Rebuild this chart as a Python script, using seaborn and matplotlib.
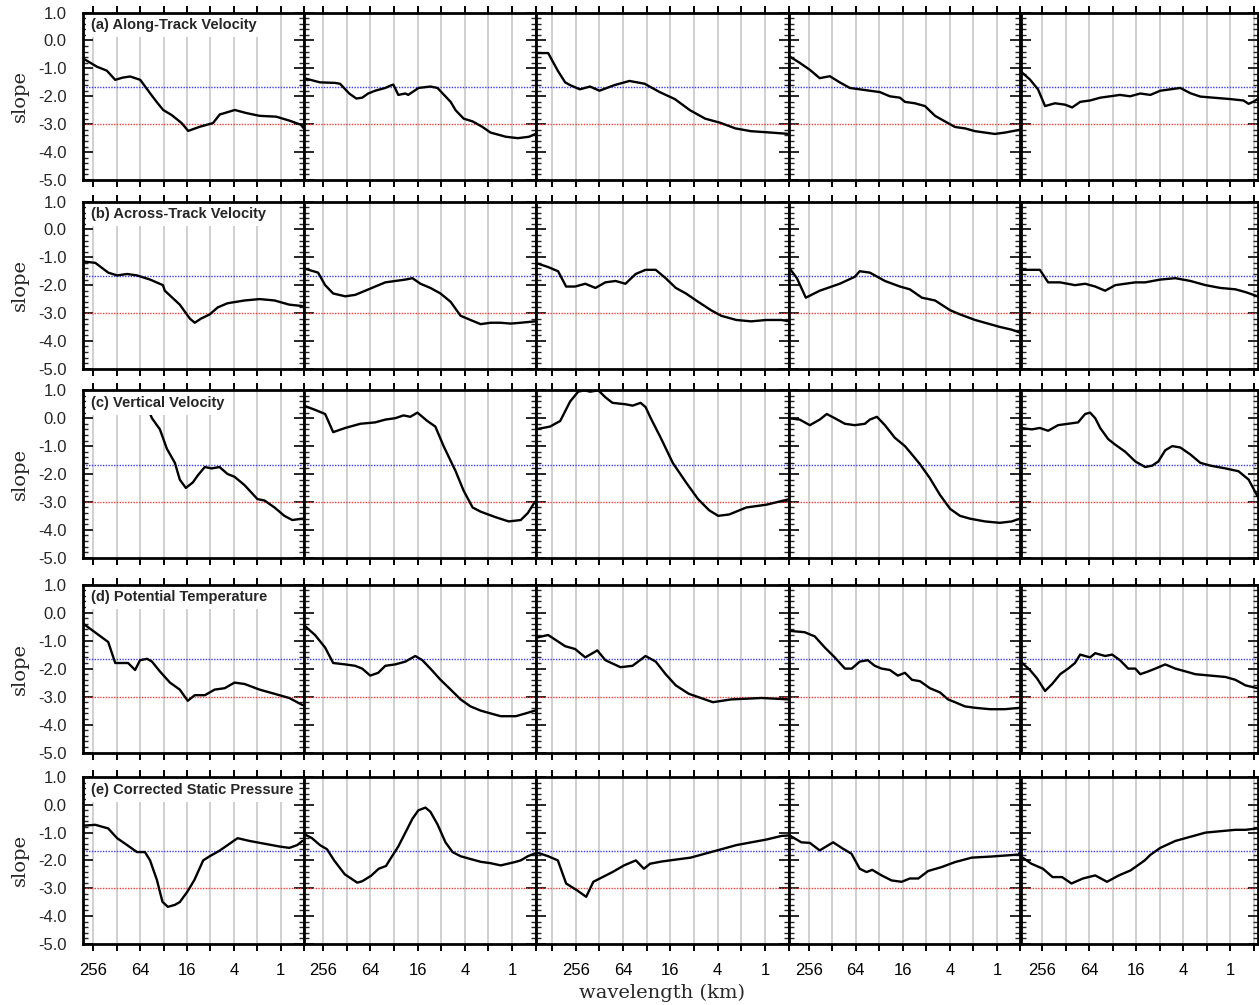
import numpy as np
import pandas as pd
import matplotlib
matplotlib.use("Agg")
import matplotlib.pyplot as plt
from matplotlib.ticker import FixedLocator, FuncFormatter, MultipleLocator, NullLocator
import seaborn as sns

# ---------------------------------------------------------------------------
# Spectral slope versus wavelength.  x values are log2(wavelength / km),
# y values are the local spectral slope.
# ---------------------------------------------------------------------------
row_titles = ["(a) Along-Track Velocity", "(b) Across-Track Velocity",
              "(c) Vertical Velocity", "(d) Potential Temperature",
              "(e) Corrected Static Pressure"]

# wavelength range covered by each column (km)
col_max_km = [346, 451, 832, 462, 482]
col_min_km = [0.5, 0.5, 0.5, 0.5, 0.45]

# reference slopes
slope_k53 = -5.0 / 3.0
slope_k3 = -3.0

# tick labels along the wavelength axis
labelled_km = [256, 64, 16, 4, 1]

# (a) along-track velocity
a1_x = [8.43, 7.85, 7.43, 7.07, 6.75, 6.43, 6.0, 5.58, 5.3, 5.02, 4.66, 4.23, 3.95, 3.45, 2.89, 2.6, 2.39, 1.96, 1.47, 0.9, 0.19, -0.37, -0.87, -0.98]
a1_y = [-0.65, -0.94, -1.08, -1.41, -1.33, -1.29, -1.41, -1.89, -2.2, -2.49, -2.67, -2.96, -3.24, -3.09, -2.96, -2.65, -2.6, -2.49, -2.6, -2.7, -2.73, -2.87, -3.02, -3.14]
a2_x = [8.82, 8.14, 7.5, 7.29, 6.9, 6.6, 6.35, 6.1, 5.8, 5.37, 5.16, 5.03, 4.82, 4.52, 4.4, 3.96, 3.46, 3.16, 2.6, 2.39, 2.05, 1.67, 1.25, 0.91, 0.26, -0.25, -0.72, -1.0]
a2_y = [-1.35, -1.5, -1.52, -1.55, -1.9, -2.08, -2.05, -1.9, -1.8, -1.7, -1.62, -1.58, -1.95, -1.9, -1.95, -1.7, -1.65, -1.7, -2.2, -2.5, -2.8, -2.9, -3.1, -3.3, -3.45, -3.5, -3.45, -3.35]
a3_x = [9.70, 9.17, 8.75, 8.45, 8.24, 7.83, 7.4, 7.0, 6.37, 5.73, 5.09, 4.45, 3.81, 3.17, 2.53, 1.89, 1.25, 0.6, -0.25, -1.04]
a3_y = [-0.45, -0.45, -1.1, -1.5, -1.6, -1.75, -1.65, -1.8, -1.6, -1.45, -1.55, -1.85, -2.1, -2.5, -2.8, -2.95, -3.15, -3.25, -3.3, -3.35]
a4_x = [8.85, 8.38, 7.95, 7.53, 7.1, 6.68, 6.25, 5.83, 5.4, 4.97, 4.55, 4.12, 3.91, 3.49, 3.06, 2.63, 2.21, 1.78, 1.36, 0.93, 0.51, 0.09, -0.34, -0.97]
a4_y = [-0.55, -0.8, -1.05, -1.35, -1.28, -1.5, -1.7, -1.75, -1.8, -1.85, -2.0, -2.05, -2.2, -2.25, -2.35, -2.7, -2.9, -3.1, -3.15, -3.25, -3.3, -3.35, -3.3, -3.2]
a5_x = [8.91, 8.51, 8.17, 7.87, 7.45, 7.02, 6.72, 6.38, 5.96, 5.53, 5.11, 4.69, 4.26, 3.83, 3.4, 2.98, 2.55, 2.13, 1.7, 1.28, 0.72, 0.0, -0.55, -0.77, -0.98, -1.15]
a5_y = [-1.1, -1.4, -1.75, -2.35, -2.25, -2.3, -2.4, -2.2, -2.15, -2.05, -2.0, -1.95, -2.0, -1.9, -1.95, -1.8, -1.75, -1.7, -1.89, -2.01, -2.05, -2.1, -2.15, -2.27, -2.19, -2.1]

# (b) across-track velocity
b1_x = [8.43, 7.92, 7.37, 6.99, 6.56, 6.14, 5.58, 5.03, 4.95, 4.31, 3.88, 3.67, 3.4, 3.03, 2.69, 2.27, 1.54, 0.9, 0.26, -0.37, -0.93]
b1_y = [-1.15, -1.2, -1.55, -1.65, -1.6, -1.65, -1.8, -2.0, -2.2, -2.7, -3.2, -3.35, -3.2, -3.05, -2.8, -2.65, -2.55, -2.5, -2.55, -2.7, -2.75]
b2_x = [8.82, 8.22, 7.92, 7.58, 7.07, 6.65, 6.22, 5.8, 5.37, 4.95, 4.52, 4.22, 3.88, 3.46, 3.03, 2.6, 2.18, 1.76, 1.33, 0.91, 0.48, 0.06, -0.37, -0.97]
b2_y = [-1.4, -1.55, -2.0, -2.3, -2.4, -2.35, -2.2, -2.05, -1.9, -1.85, -1.8, -1.75, -1.95, -2.1, -2.3, -2.6, -3.1, -3.25, -3.4, -3.35, -3.35, -3.38, -3.35, -3.3]
b3_x = [9.70, 9.17, 8.75, 8.41, 8.03, 7.6, 7.17, 6.75, 6.32, 5.9, 5.47, 5.05, 4.62, 4.2, 3.77, 3.34, 2.91, 2.28, 1.85, 1.21, 0.58, -0.06, -0.7, -1.04]
b3_y = [-1.2, -1.35, -1.5, -2.05, -2.05, -1.95, -2.1, -1.9, -1.85, -1.95, -1.6, -1.45, -1.45, -1.75, -2.1, -2.3, -2.55, -2.9, -3.1, -3.25, -3.3, -3.25, -3.25, -3.3]
b4_x = [8.85, 8.5, 8.12, 7.53, 6.68, 6.04, 5.83, 5.4, 4.76, 4.12, 3.7, 3.19, 2.63, 1.99, 1.57, 0.93, 0.51, -0.12, -0.63, -0.97]
b4_y = [-1.35, -1.75, -2.45, -2.2, -1.95, -1.7, -1.5, -1.55, -1.85, -2.05, -2.15, -2.45, -2.55, -2.9, -3.05, -3.25, -3.35, -3.5, -3.6, -3.7]
b5_x = [8.91, 8.09, 7.74, 7.23, 6.6, 6.17, 5.74, 5.32, 4.89, 4.47, 4.04, 3.62, 2.98, 2.34, 1.7, 1.06, 0.43, -0.21, -0.64, -1.15]
b5_y = [-1.45, -1.45, -1.9, -1.9, -2.0, -1.95, -2.05, -2.2, -2.0, -1.95, -1.9, -1.9, -1.8, -1.75, -1.85, -2.0, -2.1, -2.15, -2.25, -2.4]

# (c) vertical velocity
c1_x = [6.3, 5.8, 5.5, 5.16, 4.86, 4.52, 4.31, 4.05, 3.75, 3.54, 3.24, 2.95, 2.61, 2.27, 1.97, 1.54, 0.99, 0.69, 0.26, -0.16, -0.5, -0.93]
c1_y = [1.3, 0.6, 0.0, -0.4, -1.1, -1.6, -2.2, -2.5, -2.3, -2.05, -1.75, -1.8, -1.75, -2.0, -2.1, -2.4, -2.9, -2.95, -3.2, -3.5, -3.65, -3.6]
c2_x = [8.82, 8.35, 7.92, 7.58, 7.07, 6.43, 5.8, 5.37, 4.95, 4.6, 4.31, 4.01, 3.59, 3.25, 2.9, 2.39, 2.05, 1.67, 1.33, 0.69, 0.14, -0.37, -0.67, -0.97]
c2_y = [0.45, 0.3, 0.15, -0.5, -0.35, -0.2, -0.15, -0.05, 0.0, 0.1, 0.05, 0.2, -0.1, -0.3, -1.0, -1.9, -2.6, -3.2, -3.35, -3.55, -3.7, -3.65, -3.4, -3.0]
c3_x = [9.70, 9.09, 8.66, 8.24, 7.9, 7.64, 7.39, 7.05, 6.75, 6.45, 5.9, 5.6, 5.26, 5.05, 4.83, 4.41, 3.9, 3.34, 2.83, 2.36, 1.98, 1.51, 0.79, -0.06, -1.04]
c3_y = [-0.4, -0.3, -0.1, 0.6, 0.95, 1.0, 0.95, 1.0, 0.75, 0.55, 0.5, 0.45, 0.55, 0.4, 0.0, -0.7, -1.6, -2.3, -2.9, -3.3, -3.5, -3.45, -3.2, -3.1, -2.9]
c4_x = [8.85, 8.38, 7.95, 7.53, 7.23, 6.89, 6.46, 6.04, 5.61, 5.4, 5.1, 4.76, 4.34, 3.91, 3.61, 3.27, 2.85, 2.42, 1.99, 1.57, 1.15, 0.51, -0.12, -0.63, -0.97]
c4_y = [0.0, -0.05, -0.25, -0.05, 0.15, 0.0, -0.2, -0.25, -0.2, -0.05, 0.05, -0.25, -0.7, -1.0, -1.3, -1.65, -2.15, -2.75, -3.25, -3.5, -3.6, -3.7, -3.75, -3.7, -3.6]
c5_x = [8.91, 8.43, 8.09, 7.74, 7.32, 6.89, 6.47, 6.17, 5.96, 5.74, 5.53, 5.19, 4.89, 4.47, 4.04, 3.62, 3.32, 3.06, 2.77, 2.47, 2.13, 1.7, 1.28, 0.85, 0.21, -0.34, -0.77, -1.15]
c5_y = [-0.35, -0.4, -0.35, -0.45, -0.25, -0.2, -0.15, 0.15, 0.2, 0.0, -0.35, -0.75, -0.95, -1.2, -1.55, -1.75, -1.7, -1.55, -1.15, -1.0, -1.05, -1.3, -1.6, -1.7, -1.8, -1.9, -2.2, -2.8]

# (d) potential temperature
d1_x = [8.43, 7.37, 7.07, 6.52, 6.22, 6.01, 5.71, 5.5, 5.16, 4.73, 4.31, 3.97, 3.67, 3.24, 2.82, 2.39, 1.97, 1.54, 0.9, 0.26, -0.37, -0.93]
d1_y = [-0.4, -1.05, -1.8, -1.8, -2.05, -1.7, -1.65, -1.75, -2.1, -2.5, -2.75, -3.15, -2.95, -2.95, -2.75, -2.7, -2.5, -2.55, -2.75, -2.9, -3.05, -3.3]
d2_x = [8.82, 8.35, 7.92, 7.58, 7.07, 6.65, 6.35, 6.01, 5.67, 5.37, 4.95, 4.52, 4.1, 3.8, 3.46, 3.03, 2.6, 2.18, 1.76, 1.33, 0.91, 0.48, -0.16, -0.58, -0.97]
d2_y = [-0.45, -0.8, -1.25, -1.8, -1.85, -1.9, -2.0, -2.25, -2.15, -1.9, -1.85, -1.75, -1.55, -1.7, -2.0, -2.4, -2.75, -3.1, -3.35, -3.5, -3.6, -3.7, -3.7, -3.6, -3.5]
d3_x = [9.70, 9.17, 8.45, 8.03, 7.6, 7.09, 6.75, 6.11, 5.6, 5.05, 4.62, 4.2, 3.77, 3.22, 2.71, 2.2, 1.43, 0.15, -1.04]
d3_y = [-0.9, -0.8, -1.2, -1.3, -1.6, -1.35, -1.7, -1.95, -1.9, -1.55, -1.75, -2.2, -2.6, -2.9, -3.05, -3.2, -3.1, -3.05, -3.1]
d4_x = [8.85, 8.17, 7.74, 7.31, 6.89, 6.46, 6.17, 5.83, 5.49, 5.19, 4.9, 4.55, 4.21, 3.91, 3.61, 3.27, 2.85, 2.42, 2.08, 1.78, 1.36, 0.93, 0.3, -0.34, -0.97]
d4_y = [-0.65, -0.7, -0.85, -1.25, -1.6, -2.0, -2.0, -1.75, -1.7, -1.9, -2.0, -2.05, -2.25, -2.15, -2.4, -2.45, -2.7, -2.85, -3.1, -3.2, -3.35, -3.4, -3.45, -3.45, -3.4]
d5_x = [8.91, 8.51, 8.21, 7.87, 7.57, 7.23, 6.89, 6.6, 6.38, 5.96, 5.74, 5.32, 5.02, 4.69, 4.34, 4.04, 3.83, 3.49, 3.19, 2.77, 2.34, 1.91, 1.49, 0.85, 0.21, -0.21, -0.64, -1.15]
d5_y = [-1.75, -2.05, -2.35, -2.8, -2.55, -2.2, -2.0, -1.8, -1.5, -1.6, -1.45, -1.55, -1.5, -1.7, -2.0, -2.0, -2.2, -2.1, -2.0, -1.85, -2.0, -2.1, -2.2, -2.25, -2.3, -2.4, -2.6, -2.7]

# (e) corrected static pressure
e1_x = [8.43, 7.92, 7.37, 6.99, 6.56, 6.14, 5.8, 5.58, 5.29, 5.05, 4.82, 4.52, 4.31, 3.99, 3.69, 3.31, 3.03, 2.61, 2.18, 1.84, 1.33, 0.69, 0.05, -0.37, -0.71, -0.93]
e1_y = [-0.75, -0.72, -0.85, -1.2, -1.45, -1.7, -1.7, -2.0, -2.7, -3.49, -3.67, -3.6, -3.5, -3.13, -2.71, -2.0, -1.85, -1.65, -1.4, -1.2, -1.3, -1.4, -1.5, -1.55, -1.45, -1.3]
e2_x = [8.82, 8.48, 8.14, 7.84, 7.54, 7.09, 6.56, 6.35, 5.97, 5.65, 5.34, 5.16, 4.82, 4.52, 4.22, 3.97, 3.67, 3.46, 3.16, 2.82, 2.52, 2.18, 1.76, 1.33, 0.91, 0.48, -0.12, -0.37, -0.67, -0.97]
e2_y = [-1.05, -1.2, -1.45, -1.6, -2.0, -2.5, -2.8, -2.75, -2.55, -2.3, -2.2, -1.95, -1.5, -1.0, -0.5, -0.2, -0.1, -0.25, -0.7, -1.35, -1.7, -1.85, -1.95, -2.05, -2.1, -2.18, -2.06, -2.0, -1.85, -1.75]
e3_x = [9.70, 9.17, 8.76, 8.41, 7.96, 7.56, 7.26, 6.96, 6.45, 5.96, 5.46, 5.12, 4.86, 4.37, 3.76, 3.14, 2.5, 1.85, 1.21, 0.58, -0.06, -0.7, -1.04]
e3_y = [-1.7, -1.85, -2.0, -2.83, -3.07, -3.31, -2.77, -2.64, -2.42, -2.18, -2.0, -2.3, -2.12, -2.04, -1.97, -1.9, -1.75, -1.6, -1.45, -1.35, -1.25, -1.12, -1.1]
e4_x = [8.85, 8.31, 7.95, 7.53, 6.96, 6.54, 6.18, 5.83, 5.54, 5.3, 4.9, 4.48, 4.05, 3.7, 3.34, 2.92, 2.35, 1.78, 1.07, 0.22, -0.91, -0.97]
e4_y = [-1.08, -1.35, -1.37, -1.64, -1.35, -1.58, -1.76, -2.3, -2.42, -2.34, -2.54, -2.72, -2.77, -2.65, -2.65, -2.38, -2.24, -2.06, -1.9, -1.86, -1.79, -1.72]
e5_x = [8.91, 8.45, 7.96, 7.55, 7.15, 6.75, 6.26, 5.74, 5.24, 4.74, 4.24, 3.94, 3.64, 3.4, 2.98, 2.34, 1.7, 1.06, 0.43, -0.21, -0.64, -1.15]
e5_y = [-1.85, -2.12, -2.3, -2.6, -2.6, -2.83, -2.65, -2.54, -2.77, -2.54, -2.36, -2.18, -2.0, -1.8, -1.55, -1.3, -1.15, -1.0, -0.95, -0.9, -0.9, -0.85]

panels = [
    [(a1_x, a1_y), (a2_x, a2_y), (a3_x, a3_y), (a4_x, a4_y), (a5_x, a5_y)],
    [(b1_x, b1_y), (b2_x, b2_y), (b3_x, b3_y), (b4_x, b4_y), (b5_x, b5_y)],
    [(c1_x, c1_y), (c2_x, c2_y), (c3_x, c3_y), (c4_x, c4_y), (c5_x, c5_y)],
    [(d1_x, d1_y), (d2_x, d2_y), (d3_x, d3_y), (d4_x, d4_y), (d5_x, d5_y)],
    [(e1_x, e1_y), (e2_x, e2_y), (e3_x, e3_y), (e4_x, e4_y), (e5_x, e5_y)],
]

# ---------------------------------------------------------------------------
sns.set_style("ticks")
plt.rcParams["font.family"] = ["Liberation Sans", "DejaVu Sans"]
plt.rcParams["axes.unicode_minus"] = False

W, H = 1259, 1005
fig = plt.figure(figsize=(W / 100, H / 100), dpi=100)

col_edges = [83.3, 304.0, 535.6, 788.6, 1020.5, 1257.6]
row_edges = [(12.6, 180.0), (201.6, 368.7), (390.3, 557.7), (584.6, 752.6), (777.0, 943.8)]

octave_ticks = [2.0 ** k for k in range(-1, 10)]


def wl_label(v, pos):
    for t in labelled_km:
        if abs(v - t) < 1e-6:
            return f"{t:d}"
    return ""


for r, (top, bot) in enumerate(row_edges):
    for c in range(5):
        x0, x1 = col_edges[c], col_edges[c + 1]
        ax = fig.add_axes([x0 / W, 1 - bot / H, (x1 - x0) / W, (bot - top) / H])

        xs, ys = panels[r][c]
        df = pd.DataFrame({"wavelength_km": np.power(2.0, xs), "slope": ys})

        ax.axhline(slope_k53, color="#3a3aff", lw=1.0, ls=(0, (1, 1)), zorder=2)
        ax.axhline(slope_k3, color="#ff3a3a", lw=1.0, ls=(0, (1, 1)), zorder=2)
        sns.lineplot(data=df, x="wavelength_km", y="slope", ax=ax, color="black",
                     lw=1.7, sort=False, estimator=None, zorder=3)

        ax.set_xscale("log", base=2)
        ax.set_xlim(col_max_km[c], col_min_km[c])
        ax.set_ylim(-5, 1)
        ax.set_xlabel("")
        ax.set_ylabel("")

        ax.xaxis.set_major_locator(FixedLocator(octave_ticks))
        ax.xaxis.set_minor_locator(NullLocator())
        ax.xaxis.set_major_formatter(FuncFormatter(wl_label))
        ax.yaxis.set_major_locator(MultipleLocator(1.0))
        ax.yaxis.set_minor_locator(MultipleLocator(0.2))
        ax.yaxis.set_major_formatter(FuncFormatter(lambda v, p: f"{v:.1f}"))

        ax.grid(axis="x", which="major", color="#c4c4c4", lw=1.1, zorder=1)
        ax.set_axisbelow(True)

        ax.tick_params(axis="x", which="major", direction="out", length=5, width=1.4,
                       top=True, bottom=True, labelbottom=(r == 4), labeltop=False,
                       labelsize=12, pad=9, colors="black")
        ax.tick_params(axis="y", which="major", direction="in", length=7, width=1.4,
                       left=True, right=True, labelleft=(c == 0), labelright=False,
                       labelsize=12, pad=12)
        ax.tick_params(axis="y", which="minor", direction="in", length=3.5, width=1.0,
                       left=True, right=True)
        for sp in ax.spines.values():
            sp.set_linewidth(2.0)
            sp.set_color("black")
            sp.set_visible(True)
            sp.set_zorder(20)

        if c == 0:
            ax.text(0.035, 0.925, row_titles[r], transform=ax.transAxes,
                    ha="left", va="center", fontsize=10.5, fontweight="bold",
                    bbox=dict(boxstyle="square,pad=0.35", fc="white", ec="none"),
                    zorder=10)
            fig.text(20 / W, 1 - (top + bot) / 2 / H, "slope", rotation=90,
                     ha="center", va="center", fontsize=14, family="DejaVu Serif")

fig.text(662 / W, 1 - 993 / H, "wavelength (km)", ha="center", va="center",
         fontsize=14, family="DejaVu Serif")

fig.savefig("out.png", dpi=100)
